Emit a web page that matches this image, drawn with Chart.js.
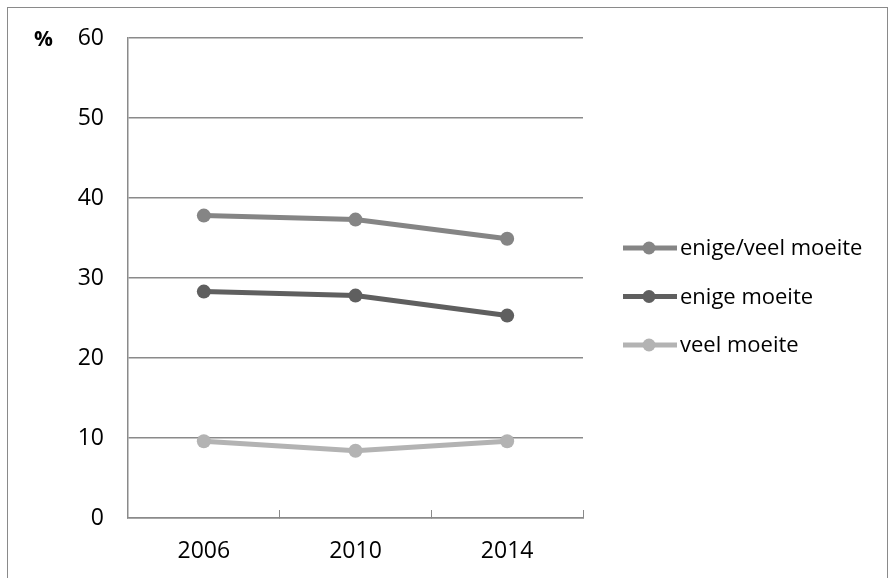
<!DOCTYPE html>
<html>
<head>
<meta charset="utf-8">
<script src="https://cdn.jsdelivr.net/npm/chart.js@4/dist/chart.umd.min.js"></script>
<style>
  html, body { margin: 0; padding: 0; background: #fff; }
  #wrap { width: 894px; height: 578px; position: relative; }
</style>
</head>
<body>
<div id="wrap"><canvas id="chart" width="894" height="578"></canvas></div>
<script>
// data
const years = ["2006", "2010", "2014"];
const enigeVeelMoeite = [37.8, 37.3, 34.9];
const enigeMoeite = [28.3, 27.8, 25.3];
const veelMoeite = [9.6, 8.4, 9.6];
const seriesNames = ["enige/veel moeite", "enige moeite", "veel moeite"];
const seriesColors = ["#858585", "#5f5f5f", "#b3b3b3"];

const FONT = "'Open Sans', 'Liberation Sans', sans-serif";

// frame, % label and legend on the right
const extras = {
  id: "extras",
  beforeDraw(chart) {
    const ctx = chart.ctx;
    ctx.save();
    ctx.fillStyle = "#fff";
    ctx.fillRect(0, 0, chart.width, chart.height);
    ctx.strokeStyle = "#8a8a8a";
    ctx.lineWidth = 1;
    ctx.strokeRect(7.5, 7.5, 880, 620);
    ctx.restore();
  },
  afterDraw(chart) {
    const ctx = chart.ctx;
    ctx.save();
    ctx.fillStyle = "#000";
    ctx.font = "bold 21px " + FONT;
    ctx.textBaseline = "middle";
    ctx.textAlign = "left";
    ctx.fillText("%", 34, 40);

    chart.data.datasets.forEach((ds, i) => {
      const y = 248 + i * 48.5;
      ctx.strokeStyle = ds.borderColor;
      ctx.lineWidth = 5;
      ctx.beginPath();
      ctx.moveTo(623, y);
      ctx.lineTo(677, y);
      ctx.stroke();
      ctx.fillStyle = ds.pointBackgroundColor;
      ctx.beginPath();
      ctx.arc(649, y, 6.5, 0, Math.PI * 2);
      ctx.fill();
      ctx.fillStyle = "#000";
      ctx.font = "22px " + FONT;
      ctx.fillText(ds.label, 680, y + 1);
    });
    ctx.restore();
  }
};

function makeSet(label, values, color) {
  return {
    label: label,
    data: values,
    borderColor: color,
    backgroundColor: color,
    pointBackgroundColor: color,
    pointBorderColor: color,
    borderWidth: 5,
    pointRadius: 7,
    pointBorderWidth: 0,
    tension: 0
  };
}

new Chart(document.getElementById("chart"), {
  type: "line",
  data: {
    labels: years,
    datasets: [
      makeSet(seriesNames[0], enigeVeelMoeite, seriesColors[0]),
      makeSet(seriesNames[1], enigeMoeite, seriesColors[1]),
      makeSet(seriesNames[2], veelMoeite, seriesColors[2])
    ]
  },
  options: {
    responsive: false,
    animation: false,
    devicePixelRatio: 1,
    layout: { padding: { top: 38, right: 311, bottom: 0, left: 0 } },
    plugins: { legend: { display: false }, tooltip: { enabled: false } },
    scales: {
      x: {
        offset: true,
        grid: {
          offset: true,
          drawOnChartArea: false,
          drawTicks: true,
          tickLength: -8,
          color: "#8a8a8a"
        },
        border: { color: "#8a8a8a", width: 1.5 },
        ticks: { color: "#000", font: { family: FONT, size: 23 }, padding: 28 },
        afterFit(scale) { scale.height = 60; }
      },
      y: {
        min: 0,
        max: 60,
        ticks: { stepSize: 10, color: "#000", font: { family: FONT, size: 23 }, padding: 24 },
        grid: { color: "#8a8a8a", lineWidth: 1.5, drawTicks: false },
        border: { color: "#8a8a8a", width: 1.5 },
        afterFit(scale) { scale.width = 128; }
      }
    }
  },
  plugins: [extras]
});
</script>
</body>
</html>
